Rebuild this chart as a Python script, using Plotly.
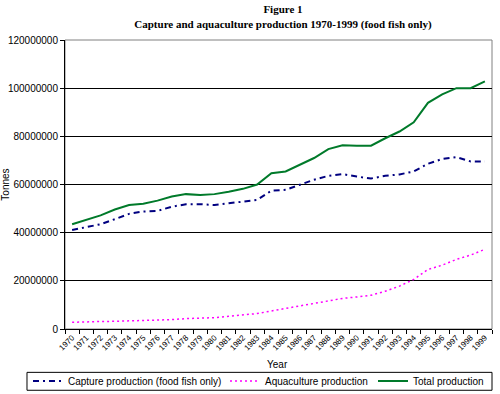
import plotly.graph_objects as go

years = [str(y) for y in range(1970, 2000)]
capture = [41.1, 42.2, 43.5, 45.6, 47.8, 48.8, 49.0, 50.8, 51.8, 51.8,
           51.5, 52.2, 52.8, 53.6, 57.4, 57.8, 59.9, 62.0, 63.6, 64.3,
           63.3, 62.5, 63.6, 64.2, 65.4, 68.6, 70.6, 71.4, 69.6, 69.5]
aquaculture = [2.8, 2.8, 3.1, 3.2, 3.3, 3.5, 3.6, 3.9, 4.3, 4.4,
               4.7, 5.3, 5.7, 6.4, 7.5, 8.5, 9.5, 10.6, 11.7, 12.7,
               13.3, 14.0, 15.7, 17.8, 20.6, 24.7, 26.5, 28.9, 30.7, 33.1]
total = [43.5, 45.2, 47.2, 49.6, 51.5, 52.0, 53.3, 55.0, 56.0, 55.6,
         56.0, 57.0, 58.2, 60.0, 64.7, 65.4, 68.2, 71.0, 74.7, 76.3,
         76.1, 76.1, 79.2, 82.0, 85.8, 93.9, 97.4, 100.0, 100.0, 102.8]
scale = 1_000_000
y_ticks = [0, 20000000, 40000000, 60000000, 80000000, 100000000, 120000000]

fig = go.Figure()
fig.add_trace(go.Scatter(x=years, y=[v * scale for v in capture], mode="lines",
                         name="Capture production (food fish only)", legend="legend",
                         line=dict(color="#000080", width=2, dash="6px,4px,2px,4px")))
fig.add_trace(go.Scatter(x=years, y=[v * scale for v in aquaculture], mode="lines",
                         name="Aquaculture production", legend="legend2",
                         line=dict(color="#FF00FF", width=1.5, dash="2px,3px")))
fig.add_trace(go.Scatter(x=years, y=[v * scale for v in total], mode="lines",
                         name="Total production", legend="legend3",
                         line=dict(color="#007a2a", width=2)))

legend_common = dict(orientation="h", xref="container", yref="container",
                     xanchor="left", y=0.033, yanchor="middle",
                     borderwidth=0, bgcolor="rgba(0,0,0,0)",
                     font=dict(family="Liberation Sans, Arial", size=10, color="black"))

fig.update_layout(
    width=500, height=394,
    margin=dict(l=65, r=8, t=40, b=65, autoexpand=False),
    paper_bgcolor="white", plot_bgcolor="white",
    font=dict(family="Liberation Sans, Arial", size=10, color="black"),
    title=dict(text="<b>Figure 1</b><br><b>Capture and aquaculture production 1970-1999 (food fish only)</b>",
               font=dict(family="Liberation Serif, Times New Roman", size=11, color="black"),
               x=0.566, xanchor="center", y=0.966, yanchor="middle", xref="container", yref="container"),
    showlegend=True,
    legend=dict(x=28 / 500, **legend_common),
    legend2=dict(x=225 / 500, **legend_common),
    legend3=dict(x=373 / 500, **legend_common),
    shapes=[dict(type="rect", xref="paper", yref="paper", x0=0, x1=1, y0=0, y1=1,
                 line=dict(color="#808080", width=1), layer="below"),
            dict(type="rect", xref="paper", yref="paper", x0=-0.089, x1=1.0, y0=-0.15, y1=-0.212,
                 line=dict(color="black", width=1), layer="below")],
    annotations=[dict(text="Year", xref="paper", yref="paper", x=0.497, y=-0.122,
                      xanchor="center", yanchor="middle", showarrow=False,
                      font=dict(family="Liberation Sans, Arial", size=10, color="black"))],
)
fig.update_xaxes(type="category", tickson="boundaries", ticks="outside", ticklen=4,
                 tickcolor="black", showline=True, linecolor="black", linewidth=1,
                 showgrid=False, tickangle=-45,
                 tickfont=dict(size=8, family="Liberation Sans, Arial"),
                 range=[-0.5, 29.5])
fig.update_yaxes(range=[0, 120000000], tickvals=y_ticks, tickformat="d",
                 ticks="outside", ticklen=4, tickcolor="black",
                 showline=True, linecolor="black", linewidth=1,
                 showgrid=True, gridcolor="black", gridwidth=1,
                 zeroline=False,
                 tickfont=dict(size=10, family="Liberation Sans, Arial"),
                 title=dict(text="Tonnes", font=dict(size=10), standoff=4))

fig.write_html("out.html", config={"displayModeBar": False},
               post_script="document.body.style.margin='0';")
